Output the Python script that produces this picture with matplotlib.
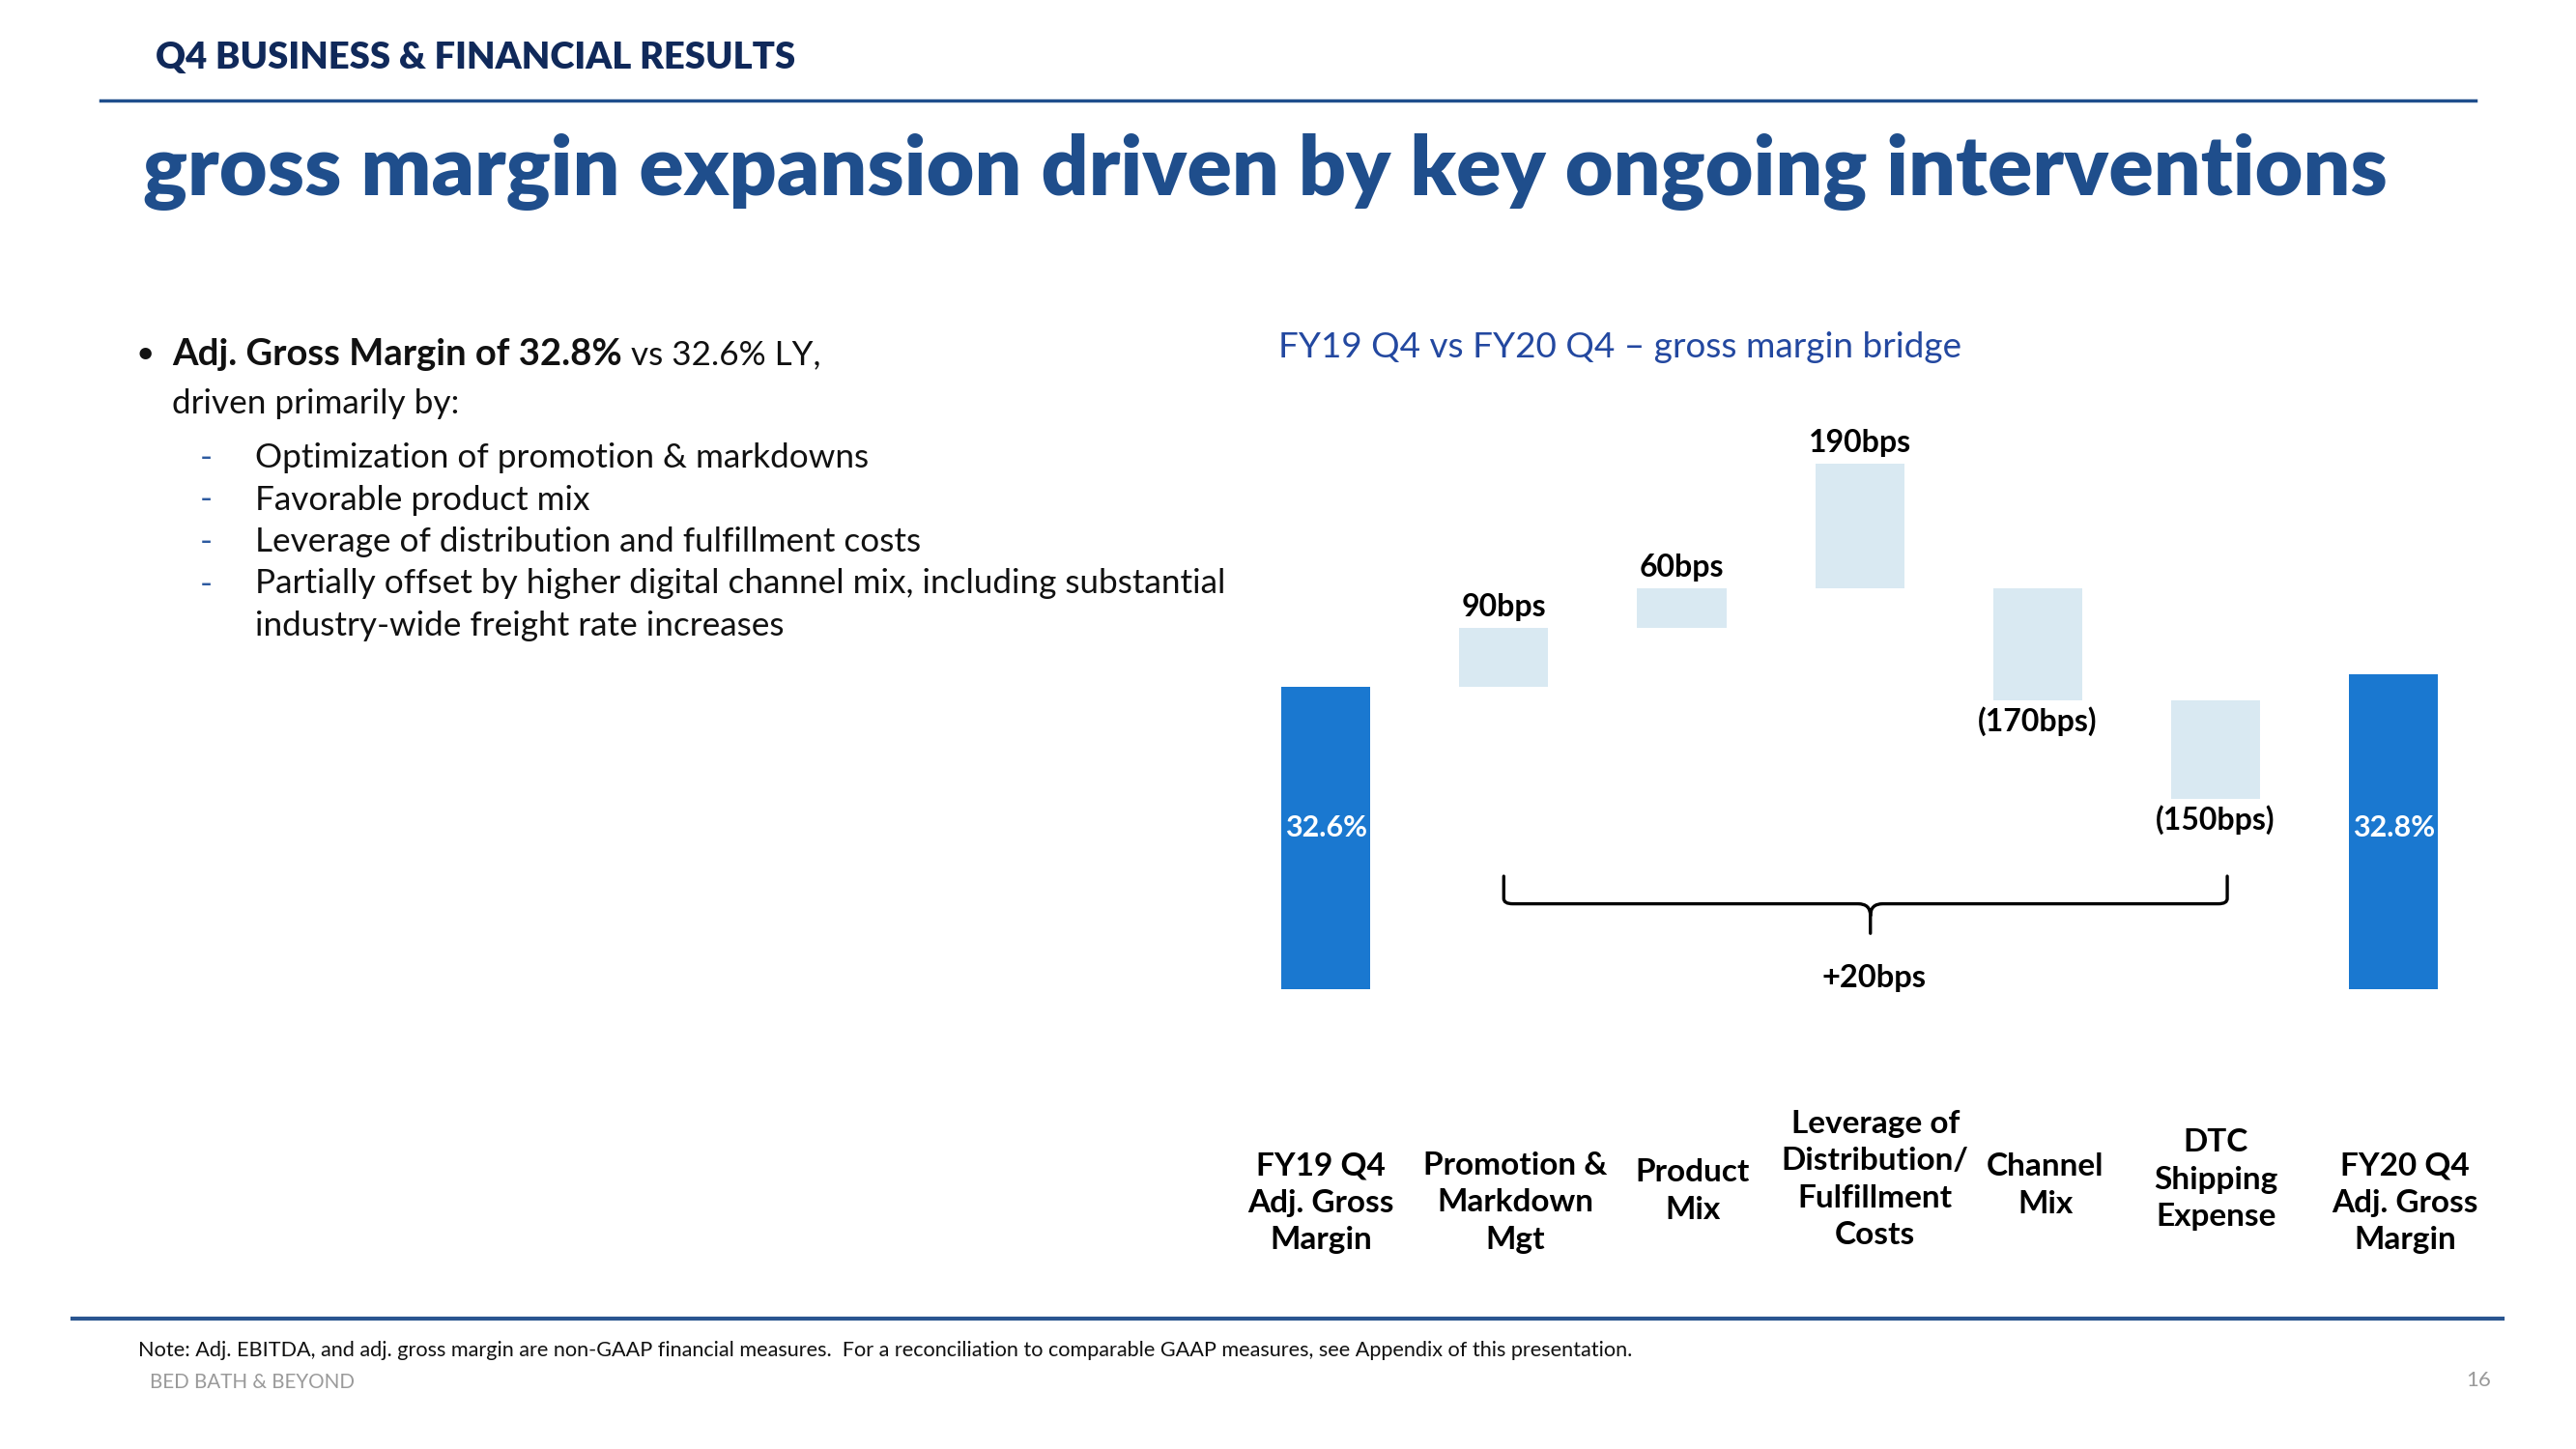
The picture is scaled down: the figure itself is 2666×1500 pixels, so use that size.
import matplotlib
matplotlib.use("Agg")
import matplotlib.pyplot as plt
import matplotlib.transforms as mtransforms
from matplotlib.lines import Line2D
from matplotlib.path import Path
from matplotlib.patches import PathPatch

# ---- data ----
categories = ["FY19 Q4\nAdj. Gross\nMargin", "Promotion &\nMarkdown\nMgt", "Product\nMix",
              "Leverage of\nDistribution/\nFulfillment\nCosts", "Channel\nMix",
              "DTC\nShipping\nExpense", "FY20 Q4\nAdj. Gross\nMargin"]
start_margin = 32.6
end_margin = 32.8
changes_bps = [90, 60, 190, -170, -150]
# level (%) each step bar starts from, as drawn on the slide
step_start = [32.6, 33.5, 34.1, 34.1, 32.4]
change_labels = ["90bps", "60bps", "190bps", "(170bps)", "(150bps)"]
total_labels = ["32.6%", "32.8%"]
net_label = "+20bps"

bullet_bold = "Adj. Gross Margin of 32.8%"
bullet_rest = " vs 32.6% LY,"
bullet_line2 = "driven primarily by:"
sub_bullets = ["Optimization of promotion & markdowns",
               "Favorable product mix",
               "Leverage of distribution and fulfillment costs",
               "Partially offset by higher digital channel mix, including substantial\nindustry-wide freight rate increases"]

W, H = 2666, 1500
TOTAL_C = "#1a78d0"
DELTA_C = "#d9e9f2"
NAVY = "#10295a"
BLUE = "#1f4e8c"
FONT = "Lato"

fig = plt.figure(figsize=(W / 100, H / 100), dpi=100)
renderer = fig.canvas.get_renderer()


def px(x, y):
    return x / W, 1 - y / H


def fit_width(t, target):
    w = t.get_window_extent(renderer).width
    t.set_fontsize(t.get_fontsize() * target / w)
    return t


# ---- slide chrome ----
fit_width(fig.text(*px(161, 60), "Q4 BUSINESS & FINANCIAL RESULTS", color=NAVY, family=FONT,
                   weight="heavy", fontsize=20, va="center"), 662)
fig.add_artist(Line2D([104 / W, 2562 / W], [1 - 104 / H] * 2, color=BLUE, lw=2.5))
fit_width(fig.text(*px(148, 178), "gross margin expansion driven by key ongoing interventions",
                   color=BLUE, family=FONT, weight="heavy", fontsize=50, va="center"), 2319)

fig.add_artist(Line2D([75 / W, 2590 / W], [1 - 1365 / H] * 2, color="#2a5590", lw=3))
fit_width(fig.text(*px(143, 1398), "Note: Adj. EBITDA, and adj. gross margin are non-GAAP financial measures.  "
                   "For a reconciliation to comparable GAAP measures, see Appendix of this presentation.",
                   color="#111111", family=FONT, fontsize=14, va="center"), 1549)
fit_width(fig.text(*px(155, 1431), "BED BATH & BEYOND", color="#9a9a9a", family=FONT,
                   fontsize=14, va="center"), 212)
fig.text(*px(2578, 1429), "16", color="#9a9a9a", family=FONT, fontsize=16, va="center", ha="right")

# ---- left commentary ----
fig.text(*px(140, 367), "\u2022", color="#111111", family=FONT, fontsize=24, va="center")
tb = fit_width(fig.text(*px(178, 367), bullet_bold, color="#111111", family=FONT,
                        weight="bold", fontsize=24, va="center"), 465)
x_after = tb.get_window_extent(renderer).x1
t0 = fit_width(fig.text(*px(264, 474), sub_bullets[0], color="#111111", family=FONT,
                        fontsize=24, va="center"), 635)
body_size = t0.get_fontsize()
fig.text(x_after / W, 1 - 367 / H, bullet_rest, color="#111111", family=FONT,
         fontsize=body_size, va="center")
fig.text(*px(178, 418), bullet_line2, color="#111111", family=FONT, fontsize=body_size, va="center")

y = 474
for k, item in enumerate(sub_bullets):
    fig.text(*px(207, y), "-", color="#2d5aa0", family=FONT, fontsize=body_size, va="center")
    for line in item.split("\n"):
        if k > 0:
            fig.text(*px(264, y), line, color="#111111", family=FONT, fontsize=body_size, va="center")
        y += 43.5

fit_width(fig.text(*px(1323, 360), "FY19 Q4 vs FY20 Q4 \u2013 gross margin bridge", color="#2348a0",
                   family=FONT, fontsize=24, va="center"), 705)

# ---- waterfall ----
base = 28.0
ax = fig.add_axes([1280 / W, (H - 1024) / H, 1289.4 / W, 680 / H])
ax.set_xlim(-0.5, 6.5)
ax.set_ylim(base, 38.0)
ax.axis("off")

n = len(categories)
ax.bar([0, n - 1], [start_margin - base, end_margin - base], bottom=base, width=0.5, color=TOTAL_C)
for x, lab in zip([0, n - 1], total_labels):
    ax.text(x, 30.45, lab, ha="center", va="center", color="white", family=FONT,
            weight="bold", fontsize=22)

for i, (s, bps, lab) in enumerate(zip(step_start, changes_bps, change_labels), start=1):
    d = bps / 100
    lo, hi = min(s, s + d), max(s, s + d)
    ax.bar(i, hi - lo, bottom=lo, width=0.5, color=DELTA_C)
    if d > 0:
        ax.annotate(lab, (i, hi), xytext=(0, 15.5), textcoords="offset points", ha="center",
                    va="center", family=FONT, weight="bold", fontsize=23, color="black")
    else:
        ax.annotate(lab, (i, lo), xytext=(0, -16), textcoords="offset points", ha="center",
                    va="center", family=FONT, weight="bold", fontsize=23, color="black")

# brace spanning the drivers
x0, x1, xm = 1.0, 5.065, 3.06
ytop, yh, ytip = 29.72, 29.3, 28.85
verts = [(x0, ytop), (x0, yh + 0.08), (x0, yh), (x0 + 0.05, yh), (xm - 0.07, yh), (xm, yh),
         (xm, yh - 0.18), (xm, ytip),
         (xm, yh - 0.18), (xm, yh), (xm + 0.07, yh), (x1 - 0.05, yh), (x1, yh), (x1, yh + 0.08),
         (x1, ytop)]
codes = [Path.MOVETO, Path.LINETO, Path.CURVE3, Path.CURVE3, Path.LINETO, Path.CURVE3, Path.CURVE3,
         Path.LINETO,
         Path.MOVETO, Path.CURVE3, Path.CURVE3, Path.LINETO, Path.CURVE3, Path.CURVE3, Path.LINETO]
ax.add_patch(PathPatch(Path(verts, codes), fill=False, lw=2.4, color="black", capstyle="round"))
ax.text(3.08, 28.17, net_label, ha="center", va="center", family=FONT, weight="bold",
        fontsize=23.5, color="black")

# category labels under the bars (slide nudges a few of them sideways)
label_y = [1245, 1245, 1233, 1221, 1227, 1221, 1245]
label_dx = [-5, 12, 11, 16, 8, 0, 12]
for i, (cat, ly, dx) in enumerate(zip(categories, label_y, label_dx)):
    trans = mtransforms.blended_transform_factory(ax.transData, fig.transFigure) + \
        mtransforms.Affine2D().translate(dx, 0)
    ax.text(i, 1 - ly / H, cat, transform=trans, ha="center", va="center", family=FONT,
            weight="bold", fontsize=24, linespacing=1.38, color="black")

fig.savefig("out.png", dpi=100)
